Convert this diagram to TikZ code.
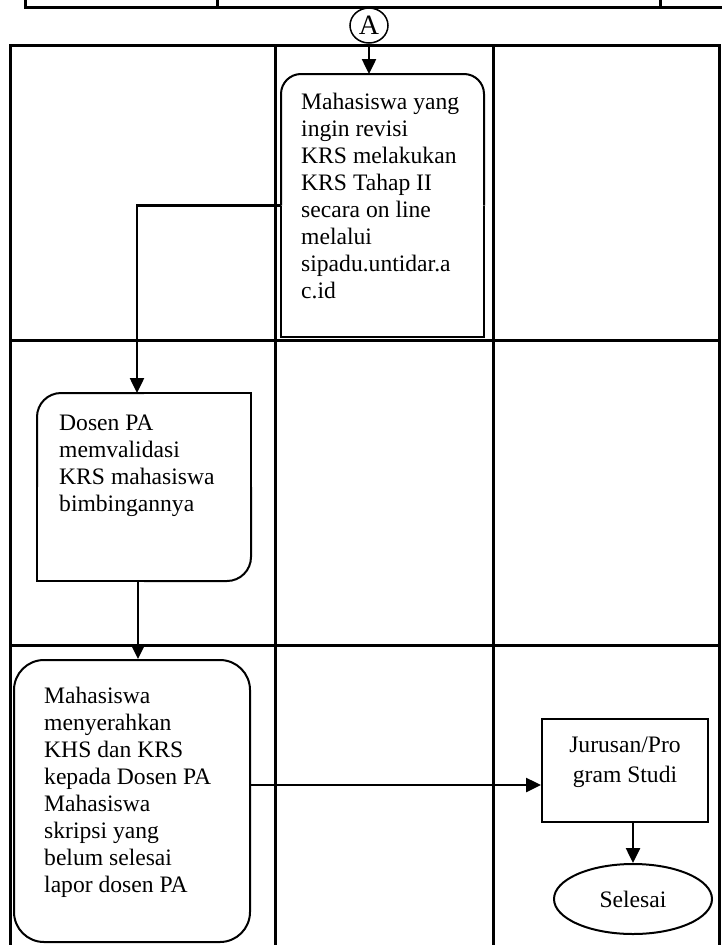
\documentclass[tikz,border=0pt]{standalone}
\usepackage{fontspec}
\setmainfont{Liberation Serif}
\usetikzlibrary{arrows.meta,shapes.geometric,calc}
\tikzset{
  sw lane/.style={line width=3pt},
  sw border/.style={line width=2pt},
  sw box/.style={
    rectangle,
    inner sep=0pt,
    line width=2pt,
  },
  sw text/.style={
    inner sep=0pt,
    anchor=north west,
    align=left,
    font=\fontsize{23.6}{27}\selectfont,
  },
  sw terminal/.style={
    ellipse,
    draw,
    line width=2pt,
    inner sep=0pt,
    font=\fontsize{23.6}{27}\selectfont,
  },
  sw connector/.style={
    ellipse,
    draw,
    line width=1.5pt,
    inner sep=0pt,
    minimum width=38pt,
    minimum height=35pt,
    font=\fontsize{28}{28}\selectfont,
  },
  sw arrow/.style={-{Triangle[length=15pt,width=14pt]}, line width=2.5pt},
}
\begin{document}
\begin{tikzpicture}[x=1pt,y=-1pt]
  \useasboundingbox (0,0) rectangle (721,945);
  % lanes of the previous page
  \draw[sw lane] (25,-5) |- (725,7);
  \foreach \x in {217,660} \draw[sw lane] (\x,-5) -- (\x,7);
  % lanes
  \draw[sw lane] (10,955) |- (719,45) -- (719,955);
  \foreach \x in {275,493} \draw[sw lane] (\x,45) -- (\x,955);
  \foreach \y in {340,645} \draw[sw lane] (10,\y) -- (719,\y);

  \node[sw connector] (A) at (369,25.5) {A};
  \node[sw box,minimum width=201pt,minimum height=261pt] (b1) at (382.5,205.5) {};
  \node[sw text] (t1) at ([shift={(20,19)}]b1.north west)
    {Mahasiswa yang\\ingin revisi\\KRS melakukan\\KRS Tahap II\\secara on line\\melalui\\sipadu.untidar.a\\c.id};
  \node[sw box,minimum width=212pt,minimum height=186pt] (b2) at (144,487) {};
  \node[sw text] (t2) at ([shift={(22,22)}]b2.north west)
    {Dosen PA\\memvalidasi\\KRS mahasiswa\\bimbingannya};
  \node[sw box,draw,rounded corners=30pt,minimum width=236pt,minimum height=282pt] (b3) at (132,801) {};
  \node[sw text] (t3) at ([shift={(31,28)}]b3.north west)
    {Mahasiswa\\menyerahkan\\KHS dan KRS\\kepada Dosen PA\\Mahasiswa\\skripsi yang\\belum selesai\\lapor dosen PA};
  \node[sw box,draw,minimum width=166pt,minimum height=103pt] (b4) at (625,770.5) {};
  \node[sw text,anchor=north,align=center,font=\fontsize{23.6}{30}\selectfont] (t4) at ([yshift=-19pt]b4.north)
    {Jurusan/Pro\\gram Studi};
  \node[sw terminal,minimum width=158pt,minimum height=70pt] (selesai) at (633,899) {Selesai};

  % box outlines
  \draw[sw border,rounded corners=20pt] (b1.west) |- (b1.north) -| (b1.east);
  \draw[sw border] (b1.east) |- (b1.south) -| (b1.west);
  \draw[sw border,rounded corners=24pt] (b2.north) -| (b2.west);
  \draw[sw border] (b2.west) |- (b2.south);
  \draw[sw border,rounded corners=24pt] (b2.south) -| (b2.east);
  \draw[sw border] (b2.east) |- (b2.north);

  \draw[sw arrow] (A.south) -- (A.south |- b1.north);
  \draw[sw arrow] (b1.west) -| ([xshift=-7pt]b2.north);
  \draw[sw arrow] ([xshift=-6pt]b2.south) -- ([xshift=-6pt]b2.south |- b3.north);
  \draw[sw arrow] ([yshift=16pt]b3.east) -- ([yshift=16pt]b3.east -| b4.west);
  \draw[sw arrow] (b4.south -| selesai.north) -- (selesai.north);
\end{tikzpicture}
\end{document}
